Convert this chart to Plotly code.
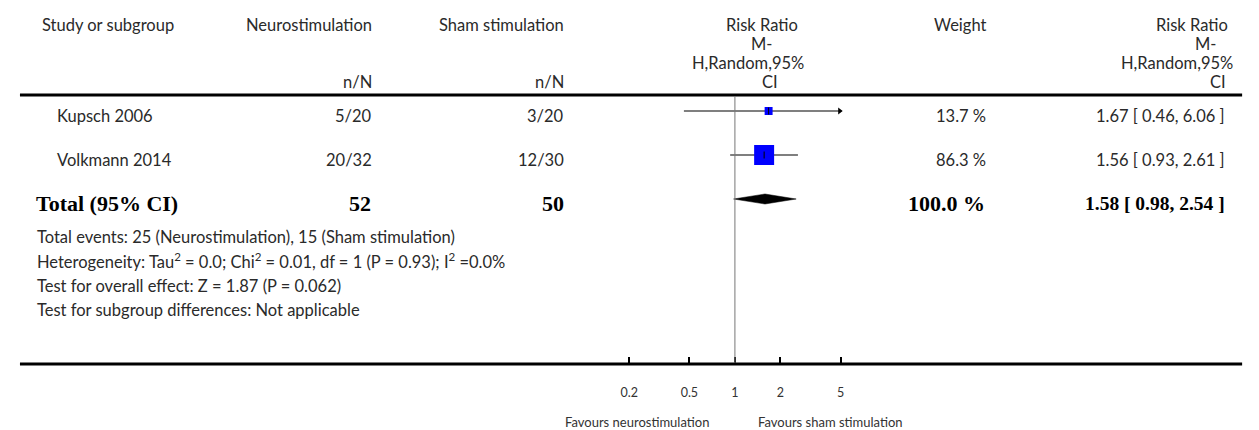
import math
import plotly.graph_objects as go

# ---------------- data ----------------
studies = ["Kupsch 2006", "Volkmann 2014"]
neuro_nN = ["5/20", "20/32"]
sham_nN = ["3/20", "12/30"]
rr = [1.67, 1.56]
ci_lo = [0.46, 0.93]
ci_hi = [6.06, 2.61]
weights = [13.7, 86.3]

total_label = "Total (95% CI)"
total_neuro = 52
total_sham = 50
total_rr = 1.58
total_lo = 0.98
total_hi = 2.54
total_weight = 100.0

tick_vals = [0.2, 0.5, 1, 2, 5]
tick_text = ["0.2", "0.5", "1", "2", "5"]

header_study = "Study or subgroup"
header_neuro = "Neurostimulation"
header_sham = "Sham stimulation"
header_weight = "Weight"
header_rr_lines = ["Risk Ratio", "M-", "H,Random,95%", "CI"]
header_nN = "n/N"

footer_lines = [
    "Total events: 25 (Neurostimulation), 15 (Sham stimulation)",
    "Heterogeneity: Tau<sup>2</sup> = 0.0; Chi<sup>2</sup> = 0.01, df = 1 (P = 0.93); I<sup>2</sup> =0.0%",
    "Test for overall effect: Z = 1.87 (P = 0.062)",
    "Test for subgroup differences: Not applicable",
]
favours_left = "Favours neurostimulation"
favours_right = "Favours sham stimulation"

# ---------------- layout geometry ----------------
OFF = 8                      # page body margin
W, H = 1259 - OFF, 430 - OFF
FONT = "Lato, 'Open Sans', sans-serif"
SERIF = "'Liberation Serif', 'DejaVu Serif', serif"
TXT = "#2a2a2a"
FS = 16.5

X_ONE = 733.3          # screen pixel of RR = 1
PX_DEC = 152.6         # pixels per decade
X_LEFT, X_RIGHT = 625.6, 841.0
xr = [(X_LEFT - X_ONE) / PX_DEC, (X_RIGHT - X_ONE) / PX_DEC]

ROW0, ROWSTEP = 111.0, 44.0
yr = [(H - (ROW0 - OFF)) / ROWSTEP, -(ROW0 - OFF) / ROWSTEP]


def px(x):
    return (x - OFF) / W


def py(y):
    return 1 - (y - OFF) / H


fig = go.Figure()

n = len(studies)
rows = list(range(n))
total_row = n

# CI lines (clipped to plot area)
for i in rows:
    fig.add_trace(go.Scatter(
        x=[ci_lo[i], ci_hi[i]], y=[i, i], mode="lines",
        line=dict(color="black", width=1.2), hoverinfo="skip", showlegend=False))

# arrows for CIs outside range
x_max = 10 ** xr[1]
arr_x = [x_max / 10 ** (2.0 / PX_DEC) for i in rows if ci_hi[i] > x_max]
arr_y = [i for i in rows if ci_hi[i] > x_max]
if arr_x:
    fig.add_trace(go.Scatter(
        x=arr_x, y=arr_y, mode="markers", cliponaxis=False,
        marker=dict(symbol="triangle-right", size=6, color="black"),
        hoverinfo="skip", showlegend=False))

# weight squares
sizes = [2.15 * math.sqrt(w) for w in weights]
fig.add_trace(go.Scatter(
    x=rr, y=rows, mode="markers",
    marker=dict(symbol="square", size=sizes, color="#0000FF", opacity=1, line=dict(width=0)),
    hoverinfo="skip", showlegend=False))
# point estimate ticks
fig.add_trace(go.Scatter(
    x=rr, y=rows, mode="markers",
    marker=dict(symbol="line-ns-open", size=5, color="black", line=dict(color="black", width=1)),
    hoverinfo="skip", showlegend=False))

# diamond for total
dh = 5.0 / ROWSTEP
fig.add_trace(go.Scatter(
    x=[total_lo, total_rr, total_hi, total_rr, total_lo],
    y=[total_row, total_row - dh, total_row, total_row + dh, total_row],
    mode="lines", fill="toself", fillcolor="black",
    line=dict(color="black", width=0.5), hoverinfo="skip", showlegend=False))

fig.update_layout(
    width=W, height=H,
    margin=dict(l=0, r=0, t=0, b=0),
    paper_bgcolor="white", plot_bgcolor="rgba(0,0,0,0)",
    font=dict(family=FONT, size=FS, color=TXT),
    showlegend=False,
    xaxis=dict(
        type="log", range=xr, domain=[px(X_LEFT), px(X_RIGHT)],
        anchor="free", position=py(364),
        showgrid=False, zeroline=False, showline=False,
        tickmode="array", tickvals=tick_vals, ticktext=tick_text,
        ticks="inside", ticklen=7, tickwidth=2, tickcolor="black",
        ticklabelstandoff=19,
        tickfont=dict(family=FONT, size=12.5, color="#333333"),
    ),
    yaxis=dict(range=yr, domain=[0, 1], visible=False),
)

shapes = []
# header rule
shapes.append(dict(type="line", xref="paper", yref="paper",
                   x0=px(12), x1=px(1245), y0=py(95), y1=py(95),
                   line=dict(color="black", width=3)))
# bottom axis rule
shapes.append(dict(type="line", xref="paper", yref="paper",
                   x0=px(12), x1=px(1245), y0=py(364), y1=py(364),
                   line=dict(color="black", width=3)))
# line of no effect
shapes.append(dict(type="line", xref="x", yref="paper",
                   x0=1, x1=1, y0=py(96), y1=py(363),
                   line=dict(color="#777777", width=1)))
fig.update_layout(shapes=shapes)

ann = []


def add_text(text, x, y, anchor="left", size=FS, family=FONT, color=TXT, yref="paper", yshift=0):
    ann.append(dict(text=text, x=x, y=y, xref="paper", yref=yref,
                    xanchor=anchor, yanchor="middle", showarrow=False,
                    yshift=yshift, font=dict(family=family, size=size, color=color)))


# headers
add_text(header_study, px(32), py(25))
add_text(header_neuro, px(369), py(25), "right")
add_text(header_sham, px(563), py(25), "right")
add_text(header_nN, px(369), py(82), "right")
add_text(header_nN, px(563), py(82), "right")
add_text(header_weight, px(989), py(25), "right")
mid_centers = [761, 760, 746, 769]
right_edges = [1233, 1221, 1238, 1231]
header_ys = [25, 44, 63, 82]
for t, cx, rx, hy in zip(header_rr_lines, mid_centers, right_edges, header_ys):
    add_text(t, px(cx), py(hy), "center")
    add_text(t, px(rx), py(hy), "right")

# study rows
for i in rows:
    add_text(studies[i], px(47), i, yref="y", yshift=-5)
    add_text(neuro_nN[i], px(369), i, "right", yref="y", yshift=-5)
    add_text(sham_nN[i], px(563), i, "right", yref="y", yshift=-5)
    add_text(f"{weights[i]:.1f} %", px(989), i, "right", yref="y", yshift=-5)
    add_text(f"{rr[i]:.2f} [ {ci_lo[i]:.2f}, {ci_hi[i]:.2f} ]", px(1230), i, "right", yref="y", yshift=-5)

# total row
BS = 22
add_text(f"<b>{total_label}</b>", px(26), total_row, size=BS, family=SERIF, color="black", yref="y", yshift=-4)
add_text(f"<b>{total_neuro}</b>", px(368), total_row, "right", size=BS, family=SERIF, color="black", yref="y", yshift=-4)
add_text(f"<b>{total_sham}</b>", px(563), total_row, "right", size=BS, family=SERIF, color="black", yref="y", yshift=-4)
add_text(f"<b>{total_weight:.1f} %</b>", px(988), total_row, "right", size=BS, family=SERIF, color="black", yref="y", yshift=-4)
add_text(f"<b>{total_rr:.2f} [ {total_lo:.2f}, {total_hi:.2f} ]</b>", px(1230), total_row, "right",
         size=19.5, family=SERIF, color="black", yref="y", yshift=-4)

# footer
for k, line in enumerate(footer_lines):
    add_text(line, px(27), py(237 + k * 24.3))

# favours
add_text(favours_left, px(709), py(422), "right", size=13, color="#333333")
add_text(favours_right, px(755), py(422), "left", size=13, color="#333333")

fig.update_layout(annotations=ann)

fig.write_html("out.html")
